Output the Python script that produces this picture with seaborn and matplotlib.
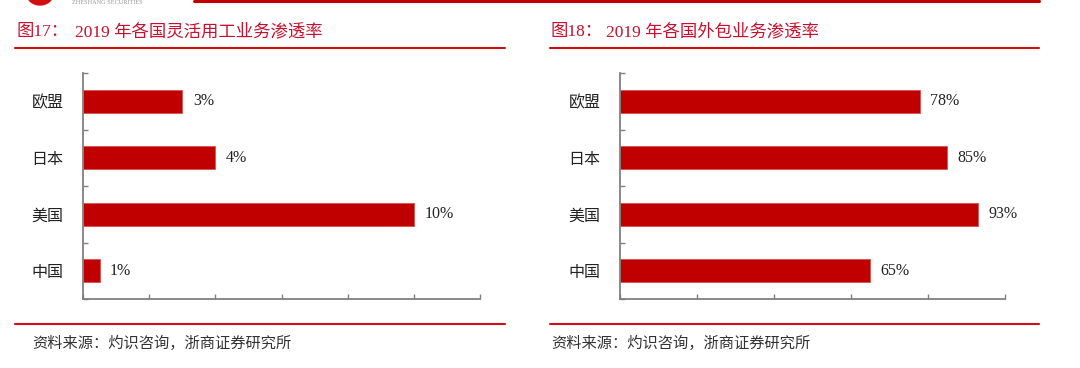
import matplotlib
matplotlib.use("Agg")
import matplotlib.pyplot as plt
from matplotlib.lines import Line2D
from matplotlib.patches import Ellipse
import seaborn as sns
import pandas as pd
import numpy as np

sns.set_theme(style="white")
plt.rcParams['font.family'] = ['Liberation Serif', 'Noto Sans CJK SC', 'DejaVu Sans']

# ---- data ----
categories = ["欧盟", "日本", "美国", "中国"]
flex_values = [3, 4, 10, 0.5]
flex_labels = ["3%", "4%", "10%", "1%"]
outsourcing_values = [78, 85, 93, 65]
outsourcing_labels = ["78%", "85%", "93%", "65%"]
left_title_num = "图17："
left_title = "2019 年各国灵活用工业务渗透率"
right_title_num = "图18："
right_title = "2019 年各国外包业务渗透率"
source_text = "资料来源：灼识咨询，浙商证券研究所"

W, H = 1080, 368
fig = plt.figure(figsize=(W / 100, H / 100), dpi=100)

RED = "#C00000"
AXC = "#808080"


def px(x, y):
    return x / W, 1 - y / H


def make_panel(rect, values, labels, xmax, xstep, label_gap):
    ax = fig.add_axes(rect)
    df = pd.DataFrame({"cat": categories, "val": values})
    sns.barplot(data=df, x="val", y="cat", order=categories, orient="h",
                color=RED, saturation=1, width=0.4, ax=ax,
                edgecolor="#d85050", linewidth=0.6)
    ax.set_xlim(0, xmax)
    ax.set_ylim(3.5, -0.5)
    ax.set_xlabel("")
    ax.set_ylabel("")
    ax.set_xticks(np.arange(0, xmax + 0.001, xstep))
    ax.set_xticklabels([])
    ax.set_yticks([-0.5, 0.5, 1.5, 2.5, 3.5])
    ax.set_yticklabels([])
    ax.set_yticks(range(len(categories)), minor=True)
    ax.set_yticklabels(categories, minor=True, fontsize=11.5, color="#222222",
                       family=['Noto Sans CJK SC'])
    ax.tick_params(axis="y", which="minor", length=0, pad=14)
    ax.tick_params(axis="both", which="major", direction="in", length=3.5,
                   width=1, color=AXC, left=True, bottom=True)
    for s in ["top", "right"]:
        ax.spines[s].set_visible(False)
    for s in ["left", "bottom"]:
        ax.spines[s].set_color(AXC)
        ax.spines[s].set_linewidth(1.3)
    for i, (v, lab) in enumerate(zip(values, labels)):
        ax.text(v + label_gap, i, lab, va="center", ha="left", fontsize=11.5,
                color="#222222", family=['Liberation Serif'])
    return ax


# left panel: x from 83 to 480, y from 73 to 299
make_panel([83 / W, 1 - 299 / H, 397 / W, 226 / H], flex_values, flex_labels,
           12, 2, 0.32)
# right panel: x from 620 to 1005
make_panel([620 / W, 1 - 299 / H, 385 / W, 226 / H], outsourcing_values,
           outsourcing_labels, 100, 20, 2.6)


def hline(x0, x1, y, lw=1.5, color="#D01010"):
    (a, b), (c, d) = px(x0, y), px(x1, y)
    fig.add_artist(Line2D([a, c], [b, d], color=color, lw=lw,
                          transform=fig.transFigure))


# header decorations
hline(194, 1039, 1, lw=2.2, color="#C00000")
fig.add_artist(Ellipse(px(40, -6), 26 / W, 22 / H, color="#D01010",
                       transform=fig.transFigure))
fig.text(*px(72, 0.5), "ZHESHANG SECURITIES", fontsize=4.5, color="#999999",
         va="top", ha="left", family=['Liberation Serif'])

# titles
TC = "#C8102E"
fig.text(*px(16, 32), left_title_num, fontsize=12.5, color=TC, va="center", ha="left")
fig.text(*px(75, 32), left_title, fontsize=12.5, color=TC, va="center", ha="left")
fig.text(*px(551, 32), right_title_num, fontsize=12.5, color=TC, va="center", ha="left")
fig.text(*px(606, 32), right_title, fontsize=12.5, color=TC, va="center", ha="left")

hline(15, 505, 48)
hline(550, 1039, 48)
hline(15, 505, 324)
hline(550, 1039, 324)

fig.text(*px(32, 343), source_text, fontsize=11, color="#333333", va="center", ha="left")
fig.text(*px(551, 343), source_text, fontsize=11, color="#333333", va="center", ha="left")

fig.savefig("out.png", dpi=100)
